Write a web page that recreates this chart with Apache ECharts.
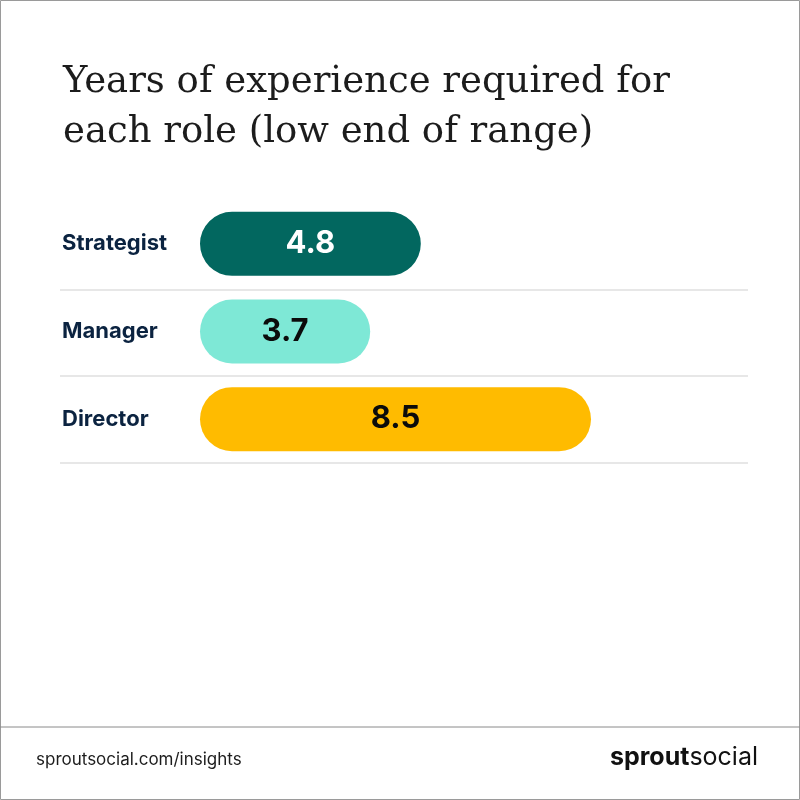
<!DOCTYPE html>
<html>
<head>
<meta charset="utf-8">
<script src="https://cdn.jsdelivr.net/npm/echarts@6/dist/echarts.min.js"></script>
<style>
  html, body { margin: 0; padding: 0; background: #fff; }
  #chart { width: 800px; height: 800px; }
</style>
</head>
<body>
<div id="chart"></div>
<script>
var roles = ['Strategist', 'Manager', 'Director'];
var years = [4.8, 3.7, 8.5];
var barColors = ['#02675f', '#7ee8d6', '#ffbb00'];
var labelColors = ['#ffffff', '#0b0b0b', '#0b0b0b'];

var chart = echarts.init(document.getElementById('chart'));

// separators under each row
var seps = [290, 376, 463].map(function (y) {
    return { type: 'line', shape: { x1: 60, y1: y, x2: 748, y2: y },
        style: { stroke: '#cfcfcf', lineWidth: 1 } };
});

chart.setOption({
    backgroundColor: '#ffffff',
    title: {
        text: 'Years of experience required for\neach role (low end of range)',
        left: 58, top: 52,
        textStyle: { fontFamily: 'DejaVu Serif', fontWeight: 'normal', fontSize: 37, lineHeight: 50, color: '#1c1c1c' }
    },
    grid: { left: 200, right: 48, top: 200, height: 263 },
    xAxis: { type: 'value', min: 0, max: 12, show: false },
    yAxis: {
        type: 'category', data: roles, inverse: true,
        axisLine: { show: false }, axisTick: { show: false },
        axisLabel: { align: 'left', margin: 138, fontFamily: 'Inter', fontWeight: 'bold', fontSize: 22, color: '#0b2340', padding: [8, 0, 0, 0] }
    },
    series: [{
        type: 'bar', barWidth: 64,
        data: years.map(function (v, i) {
            return { value: v, itemStyle: { color: barColors[i] },
                label: { color: labelColors[i] } };
        }),
        itemStyle: { borderRadius: 32 },
        label: { show: true, position: 'inside', fontFamily: 'Inter', fontWeight: 'bold', fontSize: 31 }
    }],
    graphic: seps.concat([
        { type: 'rect', shape: { x: 0.5, y: 0.5, width: 799, height: 799 }, style: { fill: 'none', stroke: '#9a9a9a', lineWidth: 1 } },
        { type: 'line', shape: { x1: 0, y1: 727, x2: 800, y2: 727 }, style: { stroke: '#8a8a8a', lineWidth: 1 } },
        { type: 'text', left: 36, top: 751, style: { text: 'sproutsocial.com/insights', font: '17px Inter', fill: '#1c1c1c' } },
        { type: 'text', right: 42, top: 745, style: {
            text: '{a|sprout}{b|social}',
            rich: { a: { font: 'bold 25px Inter', fill: '#111' }, b: { font: '25px Inter', fill: '#111' } }
        } }
    ])
});
</script>
</body>
</html>
